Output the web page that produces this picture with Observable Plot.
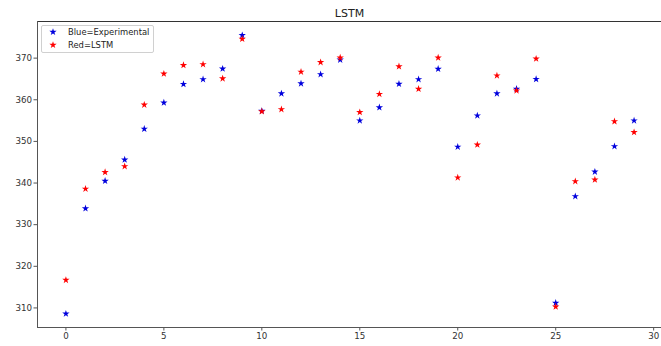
<!DOCTYPE html>
<html>
<head>
<meta charset="utf-8">
<script src="https://cdn.jsdelivr.net/npm/d3@7"></script>
<script src="https://cdn.jsdelivr.net/npm/@observablehq/plot@0.6"></script>
<style>
  html, body { margin: 0; padding: 0; background: #fff; }
  #wrap { position: relative; width: 661px; height: 346px; font-family: "DejaVu Sans", sans-serif; }
  #legend { position: absolute; left: 41px; top: 25px; width: 111px; height: 26px; border: 1px solid #d0d0d0; border-radius: 2px; background: rgba(255,255,255,0.85); }
  .row { position: absolute; left: 0; height: 12px; display: flex; align-items: center; font-size: 8.4px; color: #222; }
  .row svg { position: absolute; left: 5px; top: 0; }
  .row span { position: absolute; left: 26px; white-space: nowrap; line-height: 12px; }
</style>
</head>
<body>
<div id="wrap"></div>
<script>
// ---- data ----
const steps = [0,1,2,3,4,5,6,7,8,9,10,11,12,13,14,15,16,17,18,19,20,21,22,23,24,25,26,27,28,29];
const experimental = [308.6,333.9,340.5,345.6,353.0,359.3,363.75,364.9,367.45,375.5,357.3,361.5,363.9,366.1,369.6,355.0,358.15,363.8,364.9,367.4,348.7,356.2,361.5,362.6,364.95,311.2,336.8,342.7,348.8,355.0];
const lstm = [316.7,338.6,342.6,344.0,358.8,366.25,368.3,368.5,365.1,374.6,357.2,357.7,366.7,369.0,370.1,357.0,361.35,368.0,362.6,370.1,341.3,349.2,365.8,362.2,369.85,310.3,340.4,340.8,354.8,352.2];
const xTicks = [0,5,10,15,20,25,30];
const yTicks = [310,320,330,340,350,360,370];
const title = "LSTM";
const legendLabels = ["Blue=Experimental", "Red=LSTM"];
const colors = ["#0000dd", "#ff0000"];

const expData = steps.map((s, i) => ({x: s, y: experimental[i]}));
const lstmData = steps.map((s, i) => ({x: s, y: lstm[i]}));

const chart = Plot.plot({
  width: 661,
  height: 346,
  marginLeft: 37,
  marginRight: 0,
  marginTop: 21,
  marginBottom: 19,
  style: {fontFamily: "DejaVu Sans", fontSize: "8.7px", color: "#333", background: "white", overflow: "visible"},
  x: {domain: [-1.45, 30.4]},
  y: {domain: [305.3, 378.8]},
  marks: [
    Plot.frame({anchor: "top", stroke: "#333"}),
    Plot.frame({anchor: "left", stroke: "#555"}),
    Plot.frame({anchor: "bottom", stroke: "#555"}),
    Plot.axisX({ticks: xTicks, tickSize: 3.5, tickPadding: 2, label: null, stroke: "#555"}),
    Plot.axisY({ticks: yTicks, tickSize: 3.5, tickPadding: 2, label: null, stroke: "#555"}),
    Plot.dot(expData, {x: "x", y: "y", symbol: "star", r: 2.3, fill: colors[0], stroke: "none"}),
    Plot.dot(lstmData, {x: "x", y: "y", symbol: "star", r: 2.3, fill: colors[1], stroke: "none"}),
    Plot.text([title], {frameAnchor: "top", lineAnchor: "bottom", dy: -5, fontSize: 11, fill: "#222"})
  ]
});

const wrap = document.getElementById("wrap");
wrap.appendChild(chart);

// legend
const legend = document.createElement("div");
legend.id = "legend";
const starPath = d3.symbol(d3.symbolStar, Math.PI * 2.3 * 2.3)();
legendLabels.forEach((lab, i) => {
  const row = document.createElement("div");
  row.className = "row";
  row.style.top = (i === 0 ? 0 : 13) + "px";
  row.style.width = "100%";
  row.innerHTML = `<svg width="12" height="12" viewBox="-6 -6 12 12"><path d="${starPath}" fill="${colors[i]}"></path></svg><span>${lab}</span>`;
  legend.appendChild(row);
});
wrap.appendChild(legend);
</script>
</body>
</html>
